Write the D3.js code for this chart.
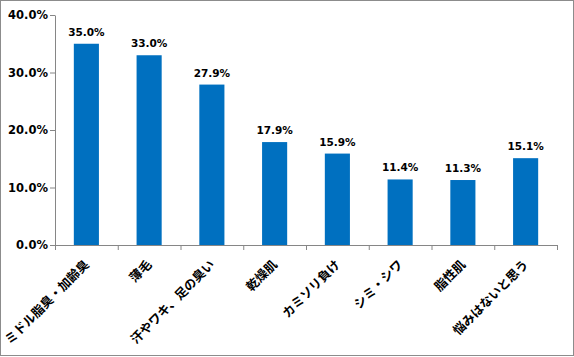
<!DOCTYPE html>
<html><head><meta charset="utf-8">
<script src="https://cdn.jsdelivr.net/npm/d3@7"></script>
<style>body{margin:0;background:#fff}svg{display:block}</style>
</head><body>
<script>
const categories = ["ミドル脂臭・加齢臭","薄毛","汗やワキ、足の臭い","乾燥肌","カミソリ負け","シミ・シワ","脂性肌","悩みはないと思う"];
const values = [35.0, 33.0, 27.9, 17.9, 15.9, 11.4, 11.3, 15.1];
const yTicks = [0, 10, 20, 30, 40];

const W = 574, H = 357;
const svg = d3.select("body").append("svg").attr("width", W).attr("height", H);
svg.append("rect").attr("x",0.5).attr("y",0.5).attr("width",W-1).attr("height",H-2)
  .attr("fill","#fff").attr("stroke","#8c8c8c");

const x0 = 55, x1 = 557, yTop = 15, yBot = 245;
const x = d3.scaleBand().domain(categories).range([x0, x1]).paddingInner(0.6).paddingOuter(0.3);
const y = d3.scaleLinear().domain([0, 40]).range([yBot, yTop]);

const font = "'DejaVu Sans', Verdana, sans-serif";

// y axis
const ya = svg.append("g").attr("transform", `translate(${x0},0)`)
  .call(d3.axisLeft(y).tickValues(yTicks).tickSize(5).tickSizeOuter(0).tickFormat(d => d.toFixed(1) + "%"));
ya.select(".domain").attr("stroke", "#868686");
ya.selectAll(".tick line").attr("stroke", "#868686");
ya.selectAll(".tick text").attr("font-family", font).attr("font-weight", "bold")
  .attr("font-size", "11.5px").attr("fill", "#000").attr("x", -7);

// bars
svg.append("g").selectAll("rect").data(values).join("rect")
  .attr("x", (d, i) => x(categories[i]))
  .attr("y", d => y(d))
  .attr("width", x.bandwidth())
  .attr("height", d => yBot - y(d))
  .attr("fill", "#0070C0");

// value labels
svg.append("g").selectAll("text").data(values).join("text")
  .attr("x", (d, i) => x(categories[i]) + x.bandwidth() / 2)
  .attr("y", d => y(d) - 8)
  .attr("text-anchor", "middle")
  .attr("font-family", font).attr("font-weight", "bold").attr("font-size", "10.5px")
  .text(d => d.toFixed(1) + "%");

// x axis
const step = (x1 - x0) / categories.length;
const xa = svg.append("g");
xa.append("line").attr("x1", x0).attr("x2", x1).attr("y1", yBot + 0.5).attr("y2", yBot + 0.5).attr("stroke", "#868686");
xa.selectAll("line.tk").data(d3.range(categories.length + 1)).join("line").attr("class", "tk")
  .attr("x1", i => x0 + i * step + 0.5).attr("x2", i => x0 + i * step + 0.5)
  .attr("y1", yBot).attr("y2", yBot + 5).attr("stroke", "#868686");

xa.selectAll("text").data(categories).join("text")
  .attr("transform", d => `translate(${x(d) + x.bandwidth() / 2 + 1},${yBot + 18}) rotate(-45)`)
  .attr("text-anchor", "end")
  .attr("dominant-baseline", "middle")
  .attr("font-family", "'Noto Sans CJK JP', sans-serif").attr("font-weight", "bold").attr("font-size", "12.5px")
  .text(d => d);
</script>
</body></html>
